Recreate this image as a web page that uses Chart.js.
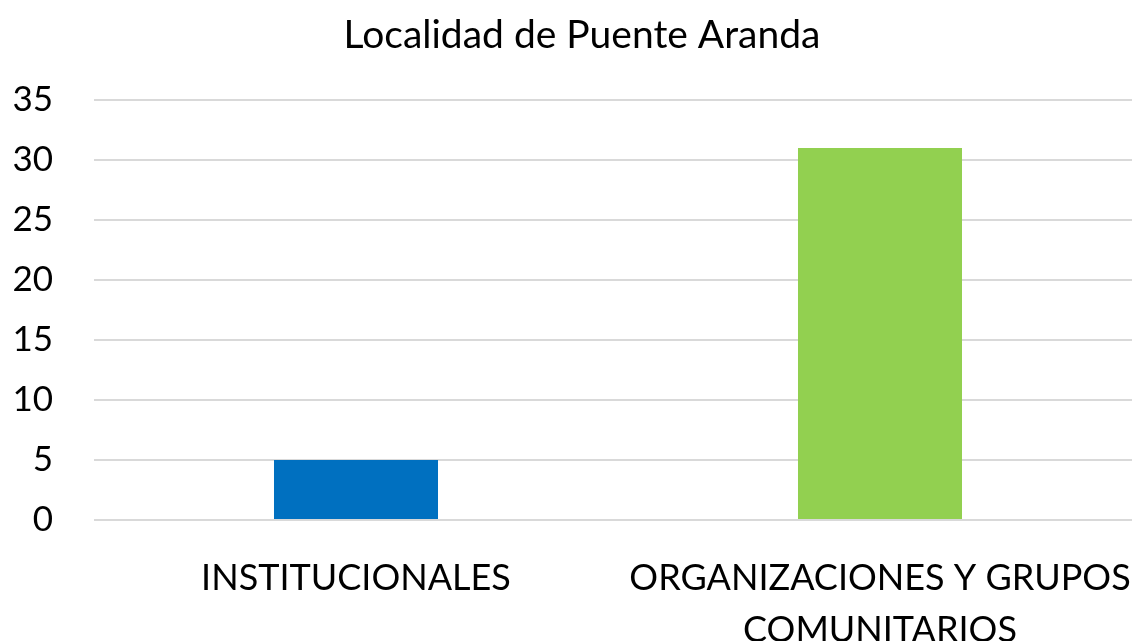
<!DOCTYPE html>
<html>
<head>
<meta charset="utf-8">
<script src="https://cdn.jsdelivr.net/npm/chart.js@4"></script>
<style>
    html, body { margin: 0; padding: 0; background: #fff; overflow: hidden; }
    #wrap { width: 1164px; height: 641px; }
</style>
</head>
<body>
<div id="wrap"><canvas id="barChart"></canvas></div>
<script>
const chartTitle = 'Localidad de Puente Aranda'
const categories = [
    'INSTITUCIONALES',
    ['ORGANIZACIONES Y GRUPOS', 'COMUNITARIOS']
]
const values = [5, 31]
const barColors = ['#0070C0', '#92D050']
const yTicks = [0, 5, 10, 15, 20, 25, 30, 35]

const fontFamily = 'Lato, "Open Sans", sans-serif'

const ctx = document.getElementById('barChart').getContext('2d')

// title is centred on the whole canvas, not on the padded box
const centerTitle = {
    id: 'centerTitle',
    afterLayout: (chart) => {
        if (chart.titleBlock) chart.titleBlock.right = chart.width
    }
}

const data = {
    labels: categories,
    datasets: [{
        label: chartTitle,
        data: values,
        backgroundColor: barColors,
        borderWidth: 0,
        categoryPercentage: 1,
        barPercentage: 0.313
    }]
}

const config = {
    type: 'bar',
    data: data,
    plugins: [centerTitle],
    options: {
        responsive: true,
        maintainAspectRatio: false,
        animation: false,
        layout: { padding: { left: 0, right: 22, top: 0, bottom: 0 } },
        plugins: {
            legend: { display: false },
            tooltip: { enabled: false },
            title: {
                display: true,
                text: chartTitle,
                color: '#000',
                font: { family: fontFamily, size: 39, weight: 'normal', lineHeight: 1.2 },
                padding: { top: 12, bottom: 41.2 }
            }
        },
        scales: {
            x: {
                grid: { display: false, drawTicks: false },
                border: { display: false },
                ticks: {
                    color: '#000',
                    padding: 32,
                    maxRotation: 0,
                    autoSkip: false,
                    font: { family: fontFamily, size: 36, lineHeight: 1.45 }
                },
                afterFit: (scale) => {
                    scale.height = 121
                    scale.paddingLeft = 0
                    scale.paddingRight = 0
                }
            },
            y: {
                min: 0,
                max: 35,
                afterBuildTicks: (scale) => { scale.ticks = yTicks.map(v => ({ value: v })) },
                grid: { color: '#d9d9d9', lineWidth: 2, drawTicks: false },
                border: { display: false },
                ticks: {
                    color: '#000',
                    padding: 41,
                    font: { family: fontFamily, size: 35 }
                },
                afterFit: (scale) => { scale.width = 94 }
            }
        }
    }
}

const chart = new Chart(ctx, config)
</script>
</body>
</html>
